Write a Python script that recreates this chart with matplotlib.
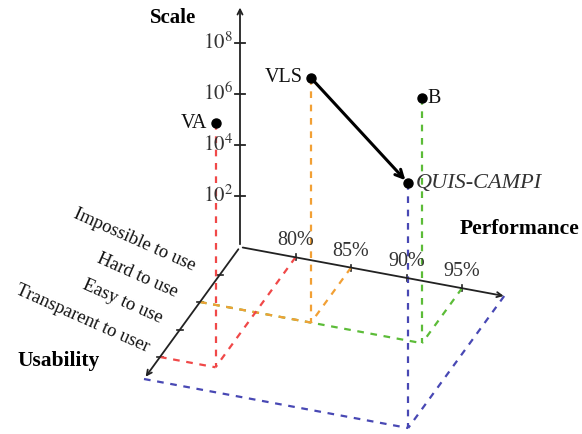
import matplotlib.pyplot as plt
import numpy as np

plt.rcParams['font.family'] = 'Liberation Serif'
plt.rcParams['mathtext.fontset'] = 'stix'

# systems: performance (%), usability level, log10(scale)
names = ["VA", "VLS", "B", "QUIS-CAMPI"]
perf = [80, 85, 95, 98.8]
usab = [4, 2, 2, 4.8]
log_scale = [4.85, 6.63, 5.84, 2.5]
colors = ["#f04848", "#f2a035", "#5cbc38", "#4848b4"]

perf_ticks = [80, 85, 90, 95]
usab_labels = ["Impossible to use", "Hard to use", "Easy to use", "Transparent to user"]
scale_exps = [2, 4, 6, 8]

# oblique projection of the 3 axes onto the page (pixel units)
ORIGIN = np.array([240.0, 247.0])
P0 = 75.0
P_VEC = np.array([11.1, 2.06])     # per 1 % performance
U_VEC = np.array([-20.0, 27.5])    # per usability level
S_STEP = 25.5                      # per decade of scale


def floor(p, u):
    return ORIGIN + (p - P0) * P_VEC + u * U_VEC


def lift(p, u, s):
    x = floor(p, u)[0]
    return np.array([x, ORIGIN[1] - s * S_STEP])


fig = plt.figure(figsize=(5.82, 4.34), dpi=100)
ax = fig.add_axes([0, 0, 1, 1])
ax.set_xlim(0, 582)
ax.set_ylim(434, 0)
ax.axis('off')

axis_kw = dict(arrowstyle='->', color='#222222', lw=1.3, mutation_scale=9)
p_end = floor(99, 0)
u_end = floor(P0, 4.8)
s_end = lift(P0, 0, 9.5)
for end in [p_end, u_end, s_end]:
    ax.annotate('', xy=end, xytext=ORIGIN, arrowprops=axis_kw)

# scale ticks
for e in scale_exps:
    x, y = lift(P0, 0, e)
    ax.plot([x - 5, x + 5], [y, y], color='#222222', lw=1.3)
    ax.text(x - 7, y, r'$10^{%d}$' % e, ha='right', va='center', fontsize=15, color='#333333')

# performance ticks
for p in perf_ticks:
    x, y = floor(p, 0)
    ax.plot([x, x], [y - 3, y + 3], color='#222222', lw=1.2)
    ax.text(x, y - 7, '%d%%' % p, ha='center', va='bottom', fontsize=14.5, color='#333333')

# usability ticks, labels sit along the axis slope
lab_off = [(-27, -4), (-25, -5), (-20, -6.5), (-13, -5)]
for i, lab in enumerate(usab_labels):
    x, y = floor(P0, i + 1)
    ax.plot([x - 3, x + 3], [y, y], color='#222222', lw=1.2)
    dx, dy = lab_off[i]
    ax.text(x + dx, y + dy, lab, ha='right', va='baseline', rotation=-24,
            rotation_mode='anchor', fontsize=13.5, color='#111111')

ax.text(173, 18, 'Scale', ha='center', va='center', fontsize=15, fontweight='bold')
ax.text(520, 229, 'Performance', ha='center', va='center', fontsize=15.5, fontweight='bold')
ax.text(59, 361, 'Usability', ha='center', va='center', fontsize=15.5, fontweight='bold')

# drop lines and guides on the floor (nearer systems drawn last)
dash = dict(lw=1.6, ls=(0, (3, 3)))
for p, u, s, c in list(zip(perf, usab, log_scale, colors))[::-1]:
    top = lift(p, u, s)
    f = floor(p, u)
    fp = floor(p, 0)
    fu = floor(P0, u)
    ax.plot([top[0], f[0]], [top[1], f[1]], color=c, **dash)
    ax.plot([fp[0], f[0]], [fp[1], f[1]], color=c, **dash)
    ax.plot([fu[0], f[0]], [fu[1], f[1]], color=c, **dash)

# points
offsets = {"VA": (-8, 0, 'right'), "VLS": (-8, 0, 'right'),
           "B": (5, 0, 'left'), "QUIS-CAMPI": (8, 0, 'left')}
for n, p, u, s in zip(names, perf, usab, log_scale):
    x, y = lift(p, u, s)
    ax.plot(x, y, 'o', color='black', ms=6.5, zorder=5)
    dx, dy, ha = offsets[n]
    style = 'italic' if n == "QUIS-CAMPI" else 'normal'
    ax.text(x + dx, y + dy, n, ha=ha, va='center', fontsize=16 if style == 'italic' else 14.5,
            style=style, color='#333333' if style == 'italic' else '#111111')

# move from VLS to QUIS-CAMPI
a = lift(perf[1], usab[1], log_scale[1])
b = lift(perf[3], usab[3], log_scale[3])
ax.annotate('', xy=b, xytext=a,
            arrowprops=dict(arrowstyle='->', color='black', lw=2.2,
                            mutation_scale=14, shrinkA=1, shrinkB=3))

fig.savefig('out.png', dpi=100)
